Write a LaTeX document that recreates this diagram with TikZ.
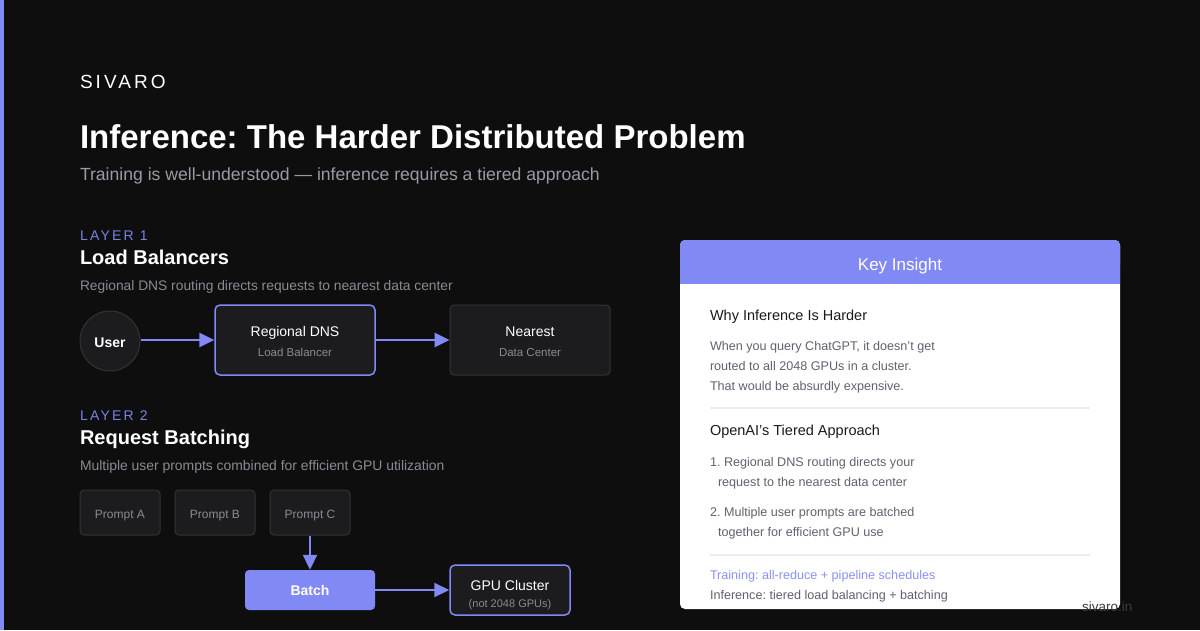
\documentclass[tikz,border=0pt]{standalone}
\usepackage{fontspec}
\setmainfont{Liberation Sans}
\usetikzlibrary{arrows.meta}
\frenchspacing
\definecolor{bg}{HTML}{0E0E0F}
\definecolor{acc}{HTML}{8189F5}
\definecolor{accdk}{HTML}{7A80E6}
\definecolor{boxfill}{HTML}{1C1C1F}
\definecolor{boxline}{HTML}{333336}
\definecolor{subgray}{HTML}{9A9AA6}
\definecolor{midgray}{HTML}{8A8A94}
\definecolor{cardtxt}{HTML}{1A1A1A}
\definecolor{cardgray}{HTML}{5F6370}
\definecolor{sepline}{HTML}{EDEDEF}
\definecolor{lightacc}{HTML}{8C92F2}
\definecolor{foot}{HTML}{3C3C40}
\tikzset{
  txt/.style={anchor=base west, inner sep=0pt, outer sep=0pt},
  ctxt/.style={anchor=base, inner sep=0pt, outer sep=0pt},
  darkbox/.style={draw=boxline, line width=1pt, fill=boxfill, rounded corners=4pt},
  accbox/.style={draw=acc, line width=1.5pt, fill=boxfill, rounded corners=5pt},
  flow/.style={draw=acc, line width=2.7pt, -{Triangle[length=15pt,width=14pt]}},
}
\begin{document}
\begin{tikzpicture}[x=1pt,y=-1pt]
\useasboundingbox (0,0) rectangle (1200,630);
\fill[bg] (0,0) rectangle (1200,630);
\fill[acc] (0,0) rectangle (4,630);

% header
\node[txt, text=white, font=\fontsize{19}{19}\selectfont\addfontfeatures{LetterSpace=16}] (brand) at (80,88) {SIVARO};
\node[txt, text=white, font=\fontsize{33}{33}\selectfont\bfseries] (title) at (80,148) {Inference: The Harder Distributed Problem};
\node[txt, text=subgray, font=\fontsize{17.6}{17.6}\selectfont] (subtitle) at (80,180) {Training is well-understood — inference requires a tiered approach};

% layer 1
\node[txt, text=accdk, font=\fontsize{14}{14}\selectfont\addfontfeatures{LetterSpace=16}] (l1) at (80,240) {LAYER 1};
\node[txt, text=white, font=\fontsize{20}{20}\selectfont\bfseries] (l1t) at (80,264) {Load Balancers};
\node[txt, text=midgray, font=\fontsize{13.8}{13.8}\selectfont] (l1d) at (80,290) {Regional DNS routing directs requests to nearest data center};

\node[circle, minimum size=60pt, fill=boxfill, draw=boxline, line width=1pt, inner sep=0pt] (user) at (110,341) {};
\node[ctxt, text=white, font=\fontsize{14}{14}\selectfont\bfseries] at (110,347) {User};
\node[accbox, minimum width=160pt, minimum height=70pt, inner sep=0pt] (dns) at (295,340) {};
\node[ctxt, text=white, font=\fontsize{14}{14}\selectfont] at (295,336) {Regional DNS};
\node[ctxt, text=midgray, font=\fontsize{11.5}{11.5}\selectfont] at (295,356) {Load Balancer};
\node[darkbox, minimum width=160pt, minimum height=70pt, inner sep=0pt] (dc) at (530,340) {};
\node[ctxt, text=white, font=\fontsize{14}{14}\selectfont] at (530,336) {Nearest};
\node[ctxt, text=midgray, font=\fontsize{11.5}{11.5}\selectfont] at (530,356) {Data Center};
\draw[flow] (user.east |- dns.west) -- (dns.west);
\draw[flow] (dns.east) -- (dc.west);

% layer 2
\node[txt, text=accdk, font=\fontsize{14}{14}\selectfont\addfontfeatures{LetterSpace=16}] (l2) at (80,420) {LAYER 2};
\node[txt, text=white, font=\fontsize{20}{20}\selectfont\bfseries] (l2t) at (80,444) {Request Batching};
\node[txt, text=midgray, font=\fontsize{13.9}{13.9}\selectfont] (l2d) at (80,470) {Multiple user prompts combined for efficient GPU utilization};

\node[darkbox, minimum width=80pt, minimum height=45pt, inner sep=0pt] (pa) at (120,512.5) {};
\node[darkbox, minimum width=80pt, minimum height=45pt, inner sep=0pt] (pb) at (215,512.5) {};
\node[darkbox, minimum width=80pt, minimum height=45pt, inner sep=0pt] (pc) at (310,512.5) {};
\node[ctxt, text=midgray, font=\fontsize{12}{12}\selectfont] at (120,518) {Prompt A};
\node[ctxt, text=midgray, font=\fontsize{12}{12}\selectfont] at (215,518) {Prompt B};
\node[ctxt, text=midgray, font=\fontsize{12}{12}\selectfont] at (310,518) {Prompt C};
\node[fill=acc, rounded corners=4pt, minimum width=130pt, minimum height=40pt, inner sep=0pt] (batch) at (310,590) {};
\node[ctxt, text=white, font=\fontsize{14}{14}\selectfont\bfseries] at (310,595) {Batch};
\node[accbox, minimum width=120pt, minimum height=50pt, inner sep=0pt] (gpu) at (510,590) {};
\node[ctxt, text=white, font=\fontsize{14}{14}\selectfont] at (510,590) {GPU Cluster};
\node[ctxt, text=midgray, font=\fontsize{11}{11}\selectfont] at (510,607) {(not 2048 GPUs)};
\draw[flow, line width=2pt] (pc.south) -- (batch.north);
\draw[flow, line width=2pt] (batch.east) -- (gpu.west);

% card
\fill[white, rounded corners=5pt] (680,240) rectangle (1120,609);
\fill[acc, rounded corners=5pt] (680,240) rectangle (1120,270);
\fill[acc] (680,260) rectangle (1120,284);
\node[ctxt, text=white, font=\fontsize{17}{17}\selectfont] (ki) at (900,270) {Key Insight};

\node[txt, text=cardtxt, font=\fontsize{14.5}{14.5}\selectfont] (h1) at (710,320) {Why Inference Is Harder};
\node[txt, text=cardgray, font=\fontsize{12.6}{12.6}\selectfont] (p1) at (710,350) {When you query ChatGPT, it doesn’t get};
\node[txt, text=cardgray, font=\fontsize{12.6}{12.6}\selectfont] (p2) at (710,370) {routed to all 2048 GPUs in a cluster.};
\node[txt, text=cardgray, font=\fontsize{12.6}{12.6}\selectfont] (p3) at (710,390) {That would be absurdly expensive.};
\draw[sepline, line width=1.5pt] (710,408) -- (1090,408);
\node[txt, text=cardtxt, font=\fontsize{14.5}{14.5}\selectfont] (h2) at (710,435) {OpenAI’s Tiered Approach};
\node[txt, text=cardgray, font=\fontsize{12.6}{12.6}\selectfont] (q1) at (710,466) {1. Regional DNS routing directs your};
\node[txt, text=cardgray, font=\fontsize{12.6}{12.6}\selectfont] (q2) at (718,486) {request to the nearest data center};
\node[txt, text=cardgray, font=\fontsize{12.6}{12.6}\selectfont] (q3) at (710,516) {2. Multiple user prompts are batched};
\node[txt, text=cardgray, font=\fontsize{12.6}{12.6}\selectfont] (q4) at (718,536) {together for efficient GPU use};
\draw[sepline, line width=1.5pt] (710,555) -- (1090,555);
\node[txt, text=lightacc, font=\fontsize{12.6}{12.6}\selectfont] (f1) at (710,579) {Training: all-reduce + pipeline schedules};
\node[txt, text=cardgray, font=\fontsize{12.6}{12.6}\selectfont] (f2) at (710,599) {Inference: tiered load balancing + batching};

\node[txt, text=foot, font=\fontsize{13.5}{13.5}\selectfont] (site) at (1082,611) {sivaro.in};
\end{tikzpicture}
\end{document}
